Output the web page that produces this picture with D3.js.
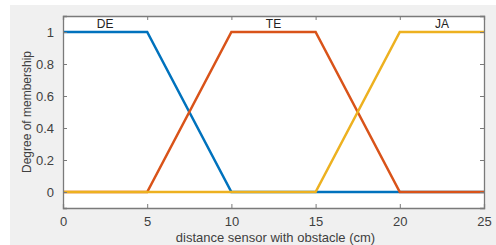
<!DOCTYPE html>
<html><head><meta charset="utf-8">
<script src="https://cdn.jsdelivr.net/npm/d3@7"></script>
<style>body{margin:0;background:#fff;}svg{display:block;font-family:"Liberation Sans",Arial,sans-serif;}</style>
</head><body><svg id="c" width="496" height="245"></svg>
<script>
const xTicks=[0,5,10,15,20,25];
const yTicks=[0,0.2,0.4,0.6,0.8,1];
const yTickLabels=["0","0.2","0.4","0.6","0.8","1"];
const names=["DE","TE","JA"];
const colors=["#0072BD","#D95319","#EDB120"];
const xsDE=[0,5,10,25], ysDE=[1,1,0,0];
const xsTE=[0,5,10,15,20,25], ysTE=[0,0,1,1,0,0];
const xsJA=[0,15,20,25], ysJA=[0,0,1,1];
const labelX=[2.5,12.5,22.5];
const xLabel="distance sensor with obstacle (cm)";
const yLabel="Degree of membership";

const svg=d3.select("#c");
svg.append("rect").attr("x",10).attr("y",5).attr("width",486).attr("height",240).attr("fill","#f0f0f0");
const L=63,R=484,T=16,B=208;
const x=d3.scaleLinear().domain([0,25]).range([L,R]);
const y=d3.scaleLinear().domain([-0.1,1.1]).range([B,T]);
svg.append("rect").attr("x",L).attr("y",T).attr("width",R-L).attr("height",B-T).attr("fill","#fff");
const series=[[xsDE,ysDE],[xsTE,ysTE],[xsJA,ysJA]];
const line=d3.line().x(d=>x(d[0])).y(d=>y(d[1]));
series.forEach((s,i)=>{
  const pts=s[0].map((v,j)=>[v,s[1][j]]);
  svg.append("path").attr("d",line(pts)).attr("fill","none").attr("stroke",colors[i]).attr("stroke-width",2.5);
});
const ax=svg.append("g").attr("transform",`translate(0,${B})`).call(d3.axisBottom(x).tickValues(xTicks).tickSize(-4).tickPadding(9));
const ay=svg.append("g").attr("transform",`translate(${L},0)`).call(d3.axisLeft(y).tickValues(yTicks).tickFormat((d,i)=>yTickLabels[i]).tickSize(-4).tickPadding(9));
const at=svg.append("g").attr("transform",`translate(0,${T})`).call(d3.axisTop(x).tickValues(xTicks).tickSize(-4).tickFormat(""));
const ar=svg.append("g").attr("transform",`translate(${R},0)`).call(d3.axisRight(y).tickValues(yTicks).tickSize(-4).tickFormat(""));
[ax,ay,at,ar].forEach(g=>{
  g.select(".domain").attr("stroke","#7a7a7a").attr("stroke-width",1.3);
  g.selectAll(".tick line").attr("stroke","#7a7a7a");
  g.selectAll("text").attr("fill","#404040").attr("font-size",13).attr("font-family","Liberation Sans,Arial,sans-serif");
});
names.forEach((n,i)=>{
  svg.append("text").attr("x",x(labelX[i])).attr("y",y(1)-4).attr("text-anchor","middle").attr("font-size",12).attr("fill","#222").text(n);
});
svg.append("text").attr("x",(L+R)/2+2).attr("y",242).attr("text-anchor","middle").attr("font-size",13).attr("fill","#404040").text(xLabel);
svg.append("text").attr("transform",`translate(31,${(T+B)/2}) rotate(-90)`).attr("text-anchor","middle").attr("font-size",12).attr("fill","#404040").text(yLabel);
</script></body></html>
